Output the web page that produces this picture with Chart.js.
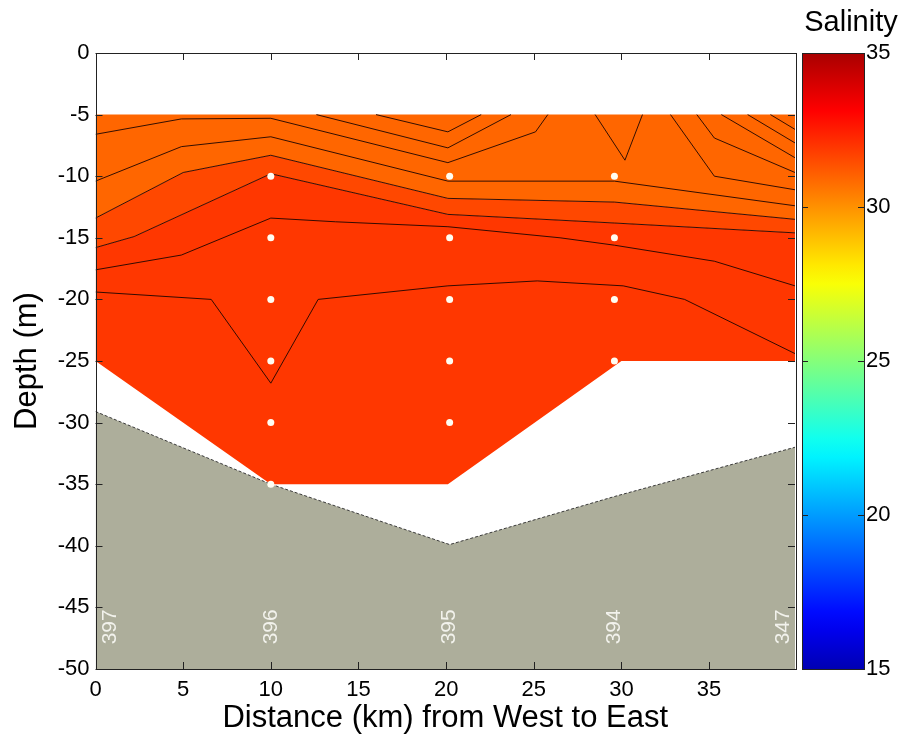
<!DOCTYPE html>
<html>
<head>
<meta charset="utf-8">
<title>Salinity section</title>
<script src="https://cdn.jsdelivr.net/npm/chart.js@4.4.1/dist/chart.umd.min.js"></script>
<style>
  html, body { margin: 0; padding: 0; background: #fff; }
</style>
</head>
<body>
<canvas id="salinityChart" width="904" height="738"></canvas>
<script>
// stations: distance (km) and station number
const stationKm = [0, 10, 20.2, 29.6, 39.9];
const stationNames = ['397', '396', '395', '394', '347'];

// bottle samples (white dots)
const sampleKm    = [10, 10, 10, 10, 10, 10, 20.2, 20.2, 20.2, 20.2, 20.2, 29.6, 29.6, 29.6, 29.6];
const sampleDepth = [-10, -15, -20, -25, -30, -35, -10, -15, -20, -25, -30, -10, -15, -20, -25];

// sea floor
const bathymetry = [[0, -29.1], [10, -35], [20.2, -39.9], [29.6, -36], [39.9, -32]];

// outline of the gridded data
const dataTop = [[0, -5], [39.9, -5]];
const dataBottom = [[0, -25], [10, -35], [20.1, -35], [30, -25], [39.9, -25]];

// salinity contour lines
const contour1 = [[0, -6.6], [4.9, -5.35], [10, -5.3], [20.1, -8.9], [25.1, -6.4], [25.8, -5]];
const contour2 = [[0, -10.4], [4.9, -7.6], [10, -6.8], [20.1, -10.4], [29.6, -10.4], [39.9, -12.4]];
const contour3 = [[0, -13.4], [5, -9.7], [10, -8.3], [20.1, -11.8], [29.6, -12.1], [39.9, -13.5]];
const contour4 = [[0, -15.8], [2.2, -14.9], [10, -9.8], [20.1, -13.1], [29.6, -13.8], [39.9, -14.6]];
const contour5 = [[0, -17.6], [4.9, -16.4], [10, -13.4], [13.7, -13.7], [20.1, -14.1], [26.5, -15.0], [29.6, -15.6], [35.3, -16.9], [39.9, -18.9]];
const contour6 = [[0, -19.4], [6.6, -20], [10, -26.8], [12.7, -20], [20.1, -18.9], [25.2, -18.5], [30.1, -18.9], [33.6, -20], [39.9, -24.4]];
const contourA = [[16.0, -5], [20.1, -6.4], [22.0, -5]];
const contourB = [[12.6, -5], [20.1, -7.7], [23.7, -5]];
const contourC = [[28.5, -5], [30.2, -8.7], [31.2, -5]];
const contourD = [[32.8, -5], [35.3, -10.0], [39.9, -11.1]];
const contourE = [[34.3, -5], [35.3, -6.9], [39.9, -9.7]];
const contourF = [[35.7, -5], [39.9, -8.5]];
const contourG = [[37.2, -5], [39.9, -7.3]];
const contourH = [[38.5, -5], [39.9, -6.2]];
const contours = [contour1, contour2, contour3, contour4, contour5, contour6,
                  contourA, contourB, contourC, contourD, contourE, contourF, contourG, contourH];

// tick labels
const xTicks = [0, 5, 10, 15, 20, 25, 30, 35];
const yTicks = [0, -5, -10, -15, -20, -25, -30, -35, -40, -45, -50];
const salinityTicks = [15, 20, 25, 30, 35];
const salinityMin = 15, salinityMax = 35;

const FONT = "'Liberation Sans', Arial, Helvetica, sans-serif";
Chart.defaults.font.family = FONT;
Chart.defaults.color = '#000';

const pts = arr => arr.map(([x, y]) => ({ x, y }));

// MATLAB-ish jet colormap
function jet(t) {
    const c = v => Math.round(255 * Math.max(0, Math.min(1, v)));
    return 'rgb(' + c(1.5 - Math.abs(4 * t - 3)) + ',' + c(1.5 - Math.abs(4 * t - 2)) + ',' + c(1.5 - Math.abs(4 * t - 1)) + ')';
}

const fillOnly = { showLine: true, borderWidth: 0, borderColor: 'transparent', pointRadius: 0 };
const datasets = [
    { ...fillOnly, data: pts(dataTop), fill: 1, backgroundColor: '#ff6600', order: 20 },
    { ...fillOnly, data: pts(contour3), fill: 2, backgroundColor: '#ff4800', order: 19 },
    { ...fillOnly, data: pts(contour4), fill: 3, backgroundColor: '#ff3700', order: 18 },
    { ...fillOnly, data: pts(dataBottom), fill: false, order: 17 },
    { data: pts(bathymetry), fill: 'start', backgroundColor: '#adae9b', borderColor: '#3a3a3a',
      borderWidth: 1, borderDash: [3, 2], pointRadius: 0, order: 16 }
];
contours.forEach(c => {
    datasets.push({ data: pts(c), fill: false, borderColor: 'rgba(30,5,0,0.9)', borderWidth: 1, pointRadius: 0, order: 2 });
});
datasets.push({
    data: sampleKm.map((x, i) => ({ x, y: sampleDepth[i] })),
    showLine: false, pointRadius: 3.5, pointBackgroundColor: '#fffdf2', pointBorderWidth: 0, order: 1
});

// frame, inward ticks, colorbar, station names
const framePlugin = {
    id: 'frame',
    beforeDraw(chart) {
        const ctx = chart.ctx;
        ctx.save();
        ctx.fillStyle = '#fff';
        ctx.fillRect(0, 0, chart.width, chart.height);
        ctx.restore();
    },
    afterDatasetsDraw(chart) {
        const { ctx, chartArea: a, scales } = chart;
        ctx.save();
        ctx.fillStyle = '#f2f2ec';
        ctx.font = '21px ' + FONT;
        ctx.textAlign = 'left';
        ctx.textBaseline = 'middle';
        stationKm.forEach((km, i) => {
            let px = scales.x.getPixelForValue(km);
            px = Math.min(Math.max(px, a.left + 15), a.right - 12);
            const py = scales.y.getPixelForValue(-48);
            ctx.save();
            ctx.translate(px, py);
            ctx.rotate(-Math.PI / 2);
            ctx.fillText(stationNames[i], 0, 0);
            ctx.restore();
        });
        ctx.restore();
    },
    afterDraw(chart) {
        const { ctx, chartArea: a, scales } = chart;
        const tick = 7;
        ctx.save();
        ctx.strokeStyle = '#222';
        ctx.lineWidth = 1;
        ctx.beginPath();
        xTicks.forEach(v => {
            const px = Math.round(scales.x.getPixelForValue(v)) + 0.5;
            ctx.moveTo(px, a.bottom); ctx.lineTo(px, a.bottom - tick);
            ctx.moveTo(px, a.top); ctx.lineTo(px, a.top + tick);
        });
        yTicks.forEach(v => {
            const py = Math.round(scales.y.getPixelForValue(v)) + 0.5;
            ctx.moveTo(a.left, py); ctx.lineTo(a.left + tick, py);
            ctx.moveTo(a.right, py); ctx.lineTo(a.right - tick, py);
        });
        ctx.stroke();
        ctx.strokeRect(Math.round(a.left) + 0.5, Math.round(a.top) + 0.5,
                       Math.round(a.right - a.left), Math.round(a.bottom - a.top));

        // colorbar
        const cb = scales.cbar;
        const bx0 = a.right + 7, bx1 = a.right + 69;
        const by0 = cb.getPixelForValue(salinityMax), by1 = cb.getPixelForValue(salinityMin);
        const grad = ctx.createLinearGradient(0, by1, 0, by0);
        for (let i = 0; i <= 32; i++) grad.addColorStop(i / 32, jet(0.05 + 0.91 * i / 32));
        ctx.fillStyle = grad;
        ctx.fillRect(bx0, by0, bx1 - bx0, by1 - by0);
        ctx.beginPath();
        salinityTicks.forEach(v => {
            const py = Math.round(cb.getPixelForValue(v)) + 0.5;
            ctx.moveTo(bx0, py); ctx.lineTo(bx0 + 6, py);
            ctx.moveTo(bx1, py); ctx.lineTo(bx1 - 6, py);
        });
        ctx.stroke();
        ctx.strokeRect(Math.round(bx0) + 0.5, Math.round(by0) + 0.5, Math.round(bx1 - bx0), Math.round(by1 - by0));

        ctx.fillStyle = '#000';
        ctx.font = '29px ' + FONT;
        ctx.textAlign = 'center';
        ctx.textBaseline = 'middle';
        ctx.fillText('Salinity', (bx0 + bx1) / 2 + 18, 23);
        ctx.restore();
    }
};

new Chart(document.getElementById('salinityChart'), {
    type: 'line',
    data: { datasets },
    plugins: [framePlugin],
    options: {
        responsive: false,
        animation: false,
        devicePixelRatio: 1,
        layout: { padding: { top: 53, left: 0, right: 0, bottom: 0 } },
        plugins: { legend: { display: false }, tooltip: { enabled: false } },
        elements: { line: { tension: 0 } },
        scales: {
            x: {
                type: 'linear', position: 'bottom', min: 0, max: 39.9,
                afterBuildTicks: s => { s.ticks = xTicks.map(v => ({ value: v })); },
                afterFit: s => { s.height = 69; },
                grid: { display: false, drawTicks: false }, border: { display: false },
                ticks: { padding: 8, font: { size: 22 }, color: '#000', maxRotation: 0, autoSkip: false },
                title: { display: true, text: 'Distance (km) from West to East', font: { size: 31 }, color: '#000', padding: { top: 0, bottom: 1 } }
            },
            y: {
                type: 'linear', position: 'left', min: -50, max: 0,
                afterBuildTicks: s => { s.ticks = yTicks.map(v => ({ value: v })); },
                afterFit: s => { s.width = 95.5; },
                grid: { display: false, drawTicks: false }, border: { display: false },
                ticks: { padding: 6, font: { size: 22 }, color: '#000', autoSkip: false },
                title: { display: true, text: 'Depth (m)', font: { size: 31 }, color: '#000', padding: { top: 9, bottom: 0 } }
            },
            cbar: {
                type: 'linear', position: 'right', min: salinityMin, max: salinityMax,
                afterBuildTicks: s => { s.ticks = salinityTicks.map(v => ({ value: v })); },
                afterFit: s => { s.width = 109; s.paddingTop = 0; s.paddingBottom = 0; },
                grid: { display: false, drawTicks: false }, border: { display: false },
                ticks: { padding: 71, font: { size: 22 }, color: '#000', autoSkip: false }
            }
        }
    }
});
</script>
</body>
</html>
